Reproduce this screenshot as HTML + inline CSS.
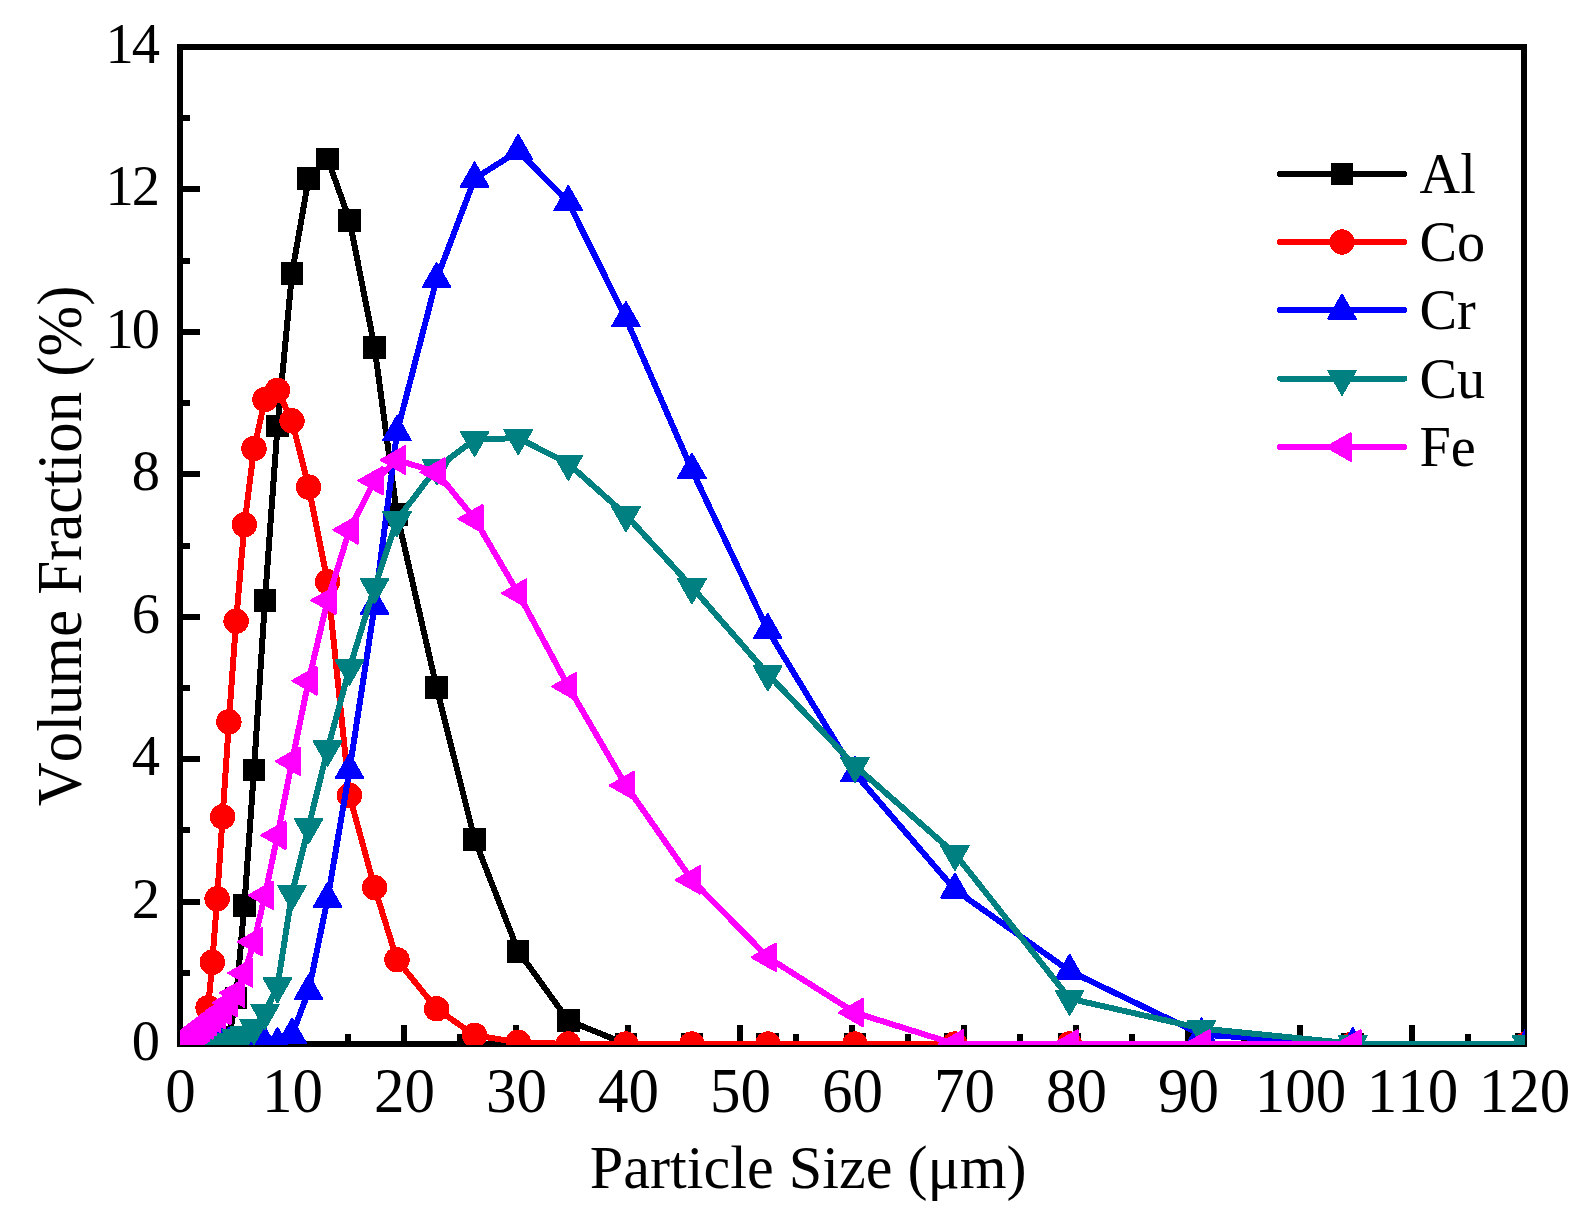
<!DOCTYPE html>
<html><head><meta charset="utf-8"><title>Particle size distribution</title>
<style>
html,body{margin:0;padding:0;background:#fff;}
svg{display:block;}
text{font-family:"Liberation Serif","Times New Roman",serif;fill:#000;font-kerning:none;}
</style></head><body>
<svg width="1592" height="1221" viewBox="0 0 1592 1221">
<rect x="0" y="0" width="1592" height="1221" fill="#fff"/>
<defs><clipPath id="plot"><rect x="180" y="44" width="1345" height="1001"/></clipPath></defs>

<g shape-rendering="crispEdges" stroke="#000" stroke-width="6" fill="none">
<rect x="180.0" y="47.0" width="1344.0" height="997.0"/>
<line x1="236.0" y1="1044.0" x2="236.0" y2="1034.0"/>
<line x1="292.0" y1="1044.0" x2="292.0" y2="1025.0"/>
<line x1="348.0" y1="1044.0" x2="348.0" y2="1034.0"/>
<line x1="404.0" y1="1044.0" x2="404.0" y2="1025.0"/>
<line x1="460.0" y1="1044.0" x2="460.0" y2="1034.0"/>
<line x1="516.0" y1="1044.0" x2="516.0" y2="1025.0"/>
<line x1="572.0" y1="1044.0" x2="572.0" y2="1034.0"/>
<line x1="628.0" y1="1044.0" x2="628.0" y2="1025.0"/>
<line x1="684.0" y1="1044.0" x2="684.0" y2="1034.0"/>
<line x1="740.0" y1="1044.0" x2="740.0" y2="1025.0"/>
<line x1="796.0" y1="1044.0" x2="796.0" y2="1034.0"/>
<line x1="852.0" y1="1044.0" x2="852.0" y2="1025.0"/>
<line x1="908.0" y1="1044.0" x2="908.0" y2="1034.0"/>
<line x1="964.0" y1="1044.0" x2="964.0" y2="1025.0"/>
<line x1="1020.0" y1="1044.0" x2="1020.0" y2="1034.0"/>
<line x1="1076.0" y1="1044.0" x2="1076.0" y2="1025.0"/>
<line x1="1132.0" y1="1044.0" x2="1132.0" y2="1034.0"/>
<line x1="1188.0" y1="1044.0" x2="1188.0" y2="1025.0"/>
<line x1="1244.0" y1="1044.0" x2="1244.0" y2="1034.0"/>
<line x1="1300.0" y1="1044.0" x2="1300.0" y2="1025.0"/>
<line x1="1356.0" y1="1044.0" x2="1356.0" y2="1034.0"/>
<line x1="1412.0" y1="1044.0" x2="1412.0" y2="1025.0"/>
<line x1="1468.0" y1="1044.0" x2="1468.0" y2="1034.0"/>
<line x1="180.0" y1="972.79" x2="190.0" y2="972.79"/>
<line x1="180.0" y1="901.57" x2="200.0" y2="901.57"/>
<line x1="180.0" y1="830.36" x2="190.0" y2="830.36"/>
<line x1="180.0" y1="759.14" x2="200.0" y2="759.14"/>
<line x1="180.0" y1="687.93" x2="190.0" y2="687.93"/>
<line x1="180.0" y1="616.71" x2="200.0" y2="616.71"/>
<line x1="180.0" y1="545.50" x2="190.0" y2="545.50"/>
<line x1="180.0" y1="474.29" x2="200.0" y2="474.29"/>
<line x1="180.0" y1="403.07" x2="190.0" y2="403.07"/>
<line x1="180.0" y1="331.86" x2="200.0" y2="331.86"/>
<line x1="180.0" y1="260.64" x2="190.0" y2="260.64"/>
<line x1="180.0" y1="189.43" x2="200.0" y2="189.43"/>
<line x1="180.0" y1="118.21" x2="190.0" y2="118.21"/>
</g>
<g clip-path="url(#plot)" shape-rendering="crispEdges">
<polyline fill="none" stroke="#000000" stroke-width="6" stroke-linejoin="round" stroke-linecap="round" points="180.2,1044.0 180.3,1044.0 180.3,1044.0 180.3,1044.0 180.4,1044.0 180.4,1044.0 180.5,1044.0 180.6,1044.0 180.7,1044.0 180.8,1044.0 180.9,1044.0 181.0,1044.0 181.2,1044.0 181.3,1044.0 181.5,1044.0 181.8,1044.0 182.0,1044.0 182.3,1044.0 182.7,1044.0 183.1,1044.0 183.5,1044.0 184.1,1044.0 184.7,1044.0 185.4,1044.0 186.2,1044.0 187.1,1044.0 188.1,1044.0 189.3,1044.0 190.7,1044.0 192.3,1044.0 194.1,1044.0 196.2,1044.0 198.6,1044.0 201.3,1044.0 204.5,1044.0 208.1,1044.0 212.3,1044.0 217.1,1044.0 222.6,1044.0 228.9,1037.6 236.1,998.0 244.4,905.3 254.0,769.7 265.0,600.1 277.5,425.9 292.0,273.5 308.6,178.4 327.6,158.8 349.5,220.1 374.6,347.5 397.0,514.2 436.6,687.6 474.6,839.3 518.2,951.1 568.3,1020.5 625.9,1044.0 691.9,1044.0 767.8,1044.0 854.9,1044.0 954.9,1044.0 1069.6,1044.0 1201.5,1044.0 1352.8,1044.0 1526.5,1044.0"/>
<rect x="168.8" y="1032.8" width="22.6" height="22.6" fill="#000000"/>
<rect x="168.9" y="1032.8" width="22.6" height="22.6" fill="#000000"/>
<rect x="168.9" y="1032.8" width="22.6" height="22.6" fill="#000000"/>
<rect x="168.9" y="1032.8" width="22.6" height="22.6" fill="#000000"/>
<rect x="169.0" y="1032.8" width="22.6" height="22.6" fill="#000000"/>
<rect x="169.0" y="1032.8" width="22.6" height="22.6" fill="#000000"/>
<rect x="169.1" y="1032.8" width="22.6" height="22.6" fill="#000000"/>
<rect x="169.2" y="1032.8" width="22.6" height="22.6" fill="#000000"/>
<rect x="169.3" y="1032.8" width="22.6" height="22.6" fill="#000000"/>
<rect x="169.4" y="1032.8" width="22.6" height="22.6" fill="#000000"/>
<rect x="169.5" y="1032.8" width="22.6" height="22.6" fill="#000000"/>
<rect x="169.6" y="1032.8" width="22.6" height="22.6" fill="#000000"/>
<rect x="169.8" y="1032.8" width="22.6" height="22.6" fill="#000000"/>
<rect x="169.9" y="1032.8" width="22.6" height="22.6" fill="#000000"/>
<rect x="170.1" y="1032.8" width="22.6" height="22.6" fill="#000000"/>
<rect x="170.4" y="1032.8" width="22.6" height="22.6" fill="#000000"/>
<rect x="170.6" y="1032.8" width="22.6" height="22.6" fill="#000000"/>
<rect x="170.9" y="1032.8" width="22.6" height="22.6" fill="#000000"/>
<rect x="171.3" y="1032.8" width="22.6" height="22.6" fill="#000000"/>
<rect x="171.7" y="1032.8" width="22.6" height="22.6" fill="#000000"/>
<rect x="172.1" y="1032.8" width="22.6" height="22.6" fill="#000000"/>
<rect x="172.7" y="1032.8" width="22.6" height="22.6" fill="#000000"/>
<rect x="173.3" y="1032.8" width="22.6" height="22.6" fill="#000000"/>
<rect x="174.0" y="1032.8" width="22.6" height="22.6" fill="#000000"/>
<rect x="174.8" y="1032.8" width="22.6" height="22.6" fill="#000000"/>
<rect x="175.7" y="1032.8" width="22.6" height="22.6" fill="#000000"/>
<rect x="176.7" y="1032.8" width="22.6" height="22.6" fill="#000000"/>
<rect x="177.9" y="1032.8" width="22.6" height="22.6" fill="#000000"/>
<rect x="179.3" y="1032.8" width="22.6" height="22.6" fill="#000000"/>
<rect x="180.9" y="1032.8" width="22.6" height="22.6" fill="#000000"/>
<rect x="182.7" y="1032.8" width="22.6" height="22.6" fill="#000000"/>
<rect x="184.8" y="1032.8" width="22.6" height="22.6" fill="#000000"/>
<rect x="187.2" y="1032.8" width="22.6" height="22.6" fill="#000000"/>
<rect x="189.9" y="1032.8" width="22.6" height="22.6" fill="#000000"/>
<rect x="193.1" y="1032.8" width="22.6" height="22.6" fill="#000000"/>
<rect x="196.7" y="1032.8" width="22.6" height="22.6" fill="#000000"/>
<rect x="200.9" y="1032.8" width="22.6" height="22.6" fill="#000000"/>
<rect x="205.7" y="1032.8" width="22.6" height="22.6" fill="#000000"/>
<rect x="211.2" y="1032.8" width="22.6" height="22.6" fill="#000000"/>
<rect x="217.5" y="1026.4" width="22.6" height="22.6" fill="#000000"/>
<rect x="224.7" y="986.8" width="22.6" height="22.6" fill="#000000"/>
<rect x="233.0" y="894.1" width="22.6" height="22.6" fill="#000000"/>
<rect x="242.6" y="758.5" width="22.6" height="22.6" fill="#000000"/>
<rect x="253.6" y="588.9" width="22.6" height="22.6" fill="#000000"/>
<rect x="266.1" y="414.7" width="22.6" height="22.6" fill="#000000"/>
<rect x="280.6" y="262.3" width="22.6" height="22.6" fill="#000000"/>
<rect x="297.2" y="167.2" width="22.6" height="22.6" fill="#000000"/>
<rect x="316.2" y="147.6" width="22.6" height="22.6" fill="#000000"/>
<rect x="338.1" y="208.9" width="22.6" height="22.6" fill="#000000"/>
<rect x="363.2" y="336.3" width="22.6" height="22.6" fill="#000000"/>
<rect x="385.6" y="503.0" width="22.6" height="22.6" fill="#000000"/>
<rect x="425.2" y="676.4" width="22.6" height="22.6" fill="#000000"/>
<rect x="463.2" y="828.1" width="22.6" height="22.6" fill="#000000"/>
<rect x="506.8" y="939.9" width="22.6" height="22.6" fill="#000000"/>
<rect x="556.9" y="1009.3" width="22.6" height="22.6" fill="#000000"/>
<rect x="614.5" y="1032.8" width="22.6" height="22.6" fill="#000000"/>
<rect x="680.5" y="1032.8" width="22.6" height="22.6" fill="#000000"/>
<rect x="756.4" y="1032.8" width="22.6" height="22.6" fill="#000000"/>
<rect x="843.5" y="1032.8" width="22.6" height="22.6" fill="#000000"/>
<rect x="943.5" y="1032.8" width="22.6" height="22.6" fill="#000000"/>
<rect x="1058.2" y="1032.8" width="22.6" height="22.6" fill="#000000"/>
<rect x="1190.1" y="1032.8" width="22.6" height="22.6" fill="#000000"/>
<rect x="1341.4" y="1032.8" width="22.6" height="22.6" fill="#000000"/>
<rect x="1515.1" y="1032.8" width="22.6" height="22.6" fill="#000000"/>
<polyline fill="none" stroke="#ff0000" stroke-width="6" stroke-linejoin="round" stroke-linecap="round" points="180.2,1044.0 180.3,1044.0 180.3,1044.0 180.3,1044.0 180.4,1044.0 180.4,1044.0 180.5,1044.0 180.6,1044.0 180.7,1044.0 180.8,1044.0 180.9,1044.0 181.0,1044.0 181.2,1044.0 181.3,1044.0 181.5,1044.0 181.8,1044.0 182.0,1044.0 182.3,1044.0 182.7,1044.0 183.1,1044.0 183.5,1044.0 184.1,1044.0 184.7,1044.0 185.4,1044.0 186.2,1044.0 187.1,1044.0 188.1,1044.0 189.3,1044.0 190.7,1044.0 192.3,1044.0 194.1,1044.0 196.2,1044.0 198.6,1044.0 201.3,1041.2 204.5,1031.2 208.1,1007.7 212.3,962.3 217.1,898.8 222.6,816.8 228.9,721.8 236.1,621.2 244.4,524.8 254.0,448.6 265.0,399.5 277.5,390.3 292.0,420.9 308.6,487.1 327.6,581.8 349.5,795.5 374.6,887.6 397.0,959.8 436.6,1008.8 474.6,1035.3 518.2,1042.2 568.3,1044.0 625.9,1044.0 691.9,1044.0 767.8,1044.0 854.9,1044.0 954.9,1044.0 1069.6,1044.0 1201.5,1044.0 1352.8,1044.0 1526.5,1044.0"/>
<circle cx="180.2" cy="1044.0" r="12.7" fill="#ff0000"/>
<circle cx="180.3" cy="1044.0" r="12.7" fill="#ff0000"/>
<circle cx="180.3" cy="1044.0" r="12.7" fill="#ff0000"/>
<circle cx="180.3" cy="1044.0" r="12.7" fill="#ff0000"/>
<circle cx="180.4" cy="1044.0" r="12.7" fill="#ff0000"/>
<circle cx="180.4" cy="1044.0" r="12.7" fill="#ff0000"/>
<circle cx="180.5" cy="1044.0" r="12.7" fill="#ff0000"/>
<circle cx="180.6" cy="1044.0" r="12.7" fill="#ff0000"/>
<circle cx="180.7" cy="1044.0" r="12.7" fill="#ff0000"/>
<circle cx="180.8" cy="1044.0" r="12.7" fill="#ff0000"/>
<circle cx="180.9" cy="1044.0" r="12.7" fill="#ff0000"/>
<circle cx="181.0" cy="1044.0" r="12.7" fill="#ff0000"/>
<circle cx="181.2" cy="1044.0" r="12.7" fill="#ff0000"/>
<circle cx="181.3" cy="1044.0" r="12.7" fill="#ff0000"/>
<circle cx="181.5" cy="1044.0" r="12.7" fill="#ff0000"/>
<circle cx="181.8" cy="1044.0" r="12.7" fill="#ff0000"/>
<circle cx="182.0" cy="1044.0" r="12.7" fill="#ff0000"/>
<circle cx="182.3" cy="1044.0" r="12.7" fill="#ff0000"/>
<circle cx="182.7" cy="1044.0" r="12.7" fill="#ff0000"/>
<circle cx="183.1" cy="1044.0" r="12.7" fill="#ff0000"/>
<circle cx="183.5" cy="1044.0" r="12.7" fill="#ff0000"/>
<circle cx="184.1" cy="1044.0" r="12.7" fill="#ff0000"/>
<circle cx="184.7" cy="1044.0" r="12.7" fill="#ff0000"/>
<circle cx="185.4" cy="1044.0" r="12.7" fill="#ff0000"/>
<circle cx="186.2" cy="1044.0" r="12.7" fill="#ff0000"/>
<circle cx="187.1" cy="1044.0" r="12.7" fill="#ff0000"/>
<circle cx="188.1" cy="1044.0" r="12.7" fill="#ff0000"/>
<circle cx="189.3" cy="1044.0" r="12.7" fill="#ff0000"/>
<circle cx="190.7" cy="1044.0" r="12.7" fill="#ff0000"/>
<circle cx="192.3" cy="1044.0" r="12.7" fill="#ff0000"/>
<circle cx="194.1" cy="1044.0" r="12.7" fill="#ff0000"/>
<circle cx="196.2" cy="1044.0" r="12.7" fill="#ff0000"/>
<circle cx="198.6" cy="1044.0" r="12.7" fill="#ff0000"/>
<circle cx="201.3" cy="1041.2" r="12.7" fill="#ff0000"/>
<circle cx="204.5" cy="1031.2" r="12.7" fill="#ff0000"/>
<circle cx="208.1" cy="1007.7" r="12.7" fill="#ff0000"/>
<circle cx="212.3" cy="962.3" r="12.7" fill="#ff0000"/>
<circle cx="217.1" cy="898.8" r="12.7" fill="#ff0000"/>
<circle cx="222.6" cy="816.8" r="12.7" fill="#ff0000"/>
<circle cx="228.9" cy="721.8" r="12.7" fill="#ff0000"/>
<circle cx="236.1" cy="621.2" r="12.7" fill="#ff0000"/>
<circle cx="244.4" cy="524.8" r="12.7" fill="#ff0000"/>
<circle cx="254.0" cy="448.6" r="12.7" fill="#ff0000"/>
<circle cx="265.0" cy="399.5" r="12.7" fill="#ff0000"/>
<circle cx="277.5" cy="390.3" r="12.7" fill="#ff0000"/>
<circle cx="292.0" cy="420.9" r="12.7" fill="#ff0000"/>
<circle cx="308.6" cy="487.1" r="12.7" fill="#ff0000"/>
<circle cx="327.6" cy="581.8" r="12.7" fill="#ff0000"/>
<circle cx="349.5" cy="795.5" r="12.7" fill="#ff0000"/>
<circle cx="374.6" cy="887.6" r="12.7" fill="#ff0000"/>
<circle cx="397.0" cy="959.8" r="12.7" fill="#ff0000"/>
<circle cx="436.6" cy="1008.8" r="12.7" fill="#ff0000"/>
<circle cx="474.6" cy="1035.3" r="12.7" fill="#ff0000"/>
<circle cx="518.2" cy="1042.2" r="12.7" fill="#ff0000"/>
<circle cx="568.3" cy="1044.0" r="12.7" fill="#ff0000"/>
<circle cx="625.9" cy="1044.0" r="12.7" fill="#ff0000"/>
<circle cx="691.9" cy="1044.0" r="12.7" fill="#ff0000"/>
<circle cx="767.8" cy="1044.0" r="12.7" fill="#ff0000"/>
<circle cx="854.9" cy="1044.0" r="12.7" fill="#ff0000"/>
<circle cx="954.9" cy="1044.0" r="12.7" fill="#ff0000"/>
<circle cx="1069.6" cy="1044.0" r="12.7" fill="#ff0000"/>
<circle cx="1201.5" cy="1044.0" r="12.7" fill="#ff0000"/>
<circle cx="1352.8" cy="1044.0" r="12.7" fill="#ff0000"/>
<circle cx="1526.5" cy="1044.0" r="12.7" fill="#ff0000"/>
<polyline fill="none" stroke="#0000ff" stroke-width="6" stroke-linejoin="round" stroke-linecap="round" points="192.3,1044.0 194.1,1044.0 196.2,1044.0 198.6,1044.0 201.3,1044.0 204.5,1044.0 208.1,1044.0 212.3,1044.0 217.1,1044.0 222.6,1044.0 228.9,1044.0 236.1,1044.0 244.4,1044.0 254.0,1044.0 265.0,1044.0 277.5,1044.0 292.0,1034.9 308.6,991.3 327.6,898.9 349.5,770.1 374.6,606.0 397.0,432.3 436.6,279.2 474.6,178.7 518.2,151.0 568.3,202.2 625.9,318.3 691.9,470.0 767.8,630.2 854.9,773.4 954.9,889.7 1069.6,971.0 1201.5,1034.7 1352.8,1044.0 1526.5,1044.0"/>
<polygon points="192.3,1027.8 178.5,1052.0 206.1,1052.0" fill="#0000ff" stroke="#0000ff" stroke-width="2" stroke-linejoin="round"/>
<polygon points="194.1,1027.8 180.3,1052.0 207.9,1052.0" fill="#0000ff" stroke="#0000ff" stroke-width="2" stroke-linejoin="round"/>
<polygon points="196.2,1027.8 182.4,1052.0 210.0,1052.0" fill="#0000ff" stroke="#0000ff" stroke-width="2" stroke-linejoin="round"/>
<polygon points="198.6,1027.8 184.8,1052.0 212.4,1052.0" fill="#0000ff" stroke="#0000ff" stroke-width="2" stroke-linejoin="round"/>
<polygon points="201.3,1027.8 187.5,1052.0 215.1,1052.0" fill="#0000ff" stroke="#0000ff" stroke-width="2" stroke-linejoin="round"/>
<polygon points="204.5,1027.8 190.7,1052.0 218.3,1052.0" fill="#0000ff" stroke="#0000ff" stroke-width="2" stroke-linejoin="round"/>
<polygon points="208.1,1027.8 194.3,1052.0 221.9,1052.0" fill="#0000ff" stroke="#0000ff" stroke-width="2" stroke-linejoin="round"/>
<polygon points="212.3,1027.8 198.5,1052.0 226.1,1052.0" fill="#0000ff" stroke="#0000ff" stroke-width="2" stroke-linejoin="round"/>
<polygon points="217.1,1027.8 203.3,1052.0 230.9,1052.0" fill="#0000ff" stroke="#0000ff" stroke-width="2" stroke-linejoin="round"/>
<polygon points="222.6,1027.8 208.8,1052.0 236.4,1052.0" fill="#0000ff" stroke="#0000ff" stroke-width="2" stroke-linejoin="round"/>
<polygon points="228.9,1027.8 215.1,1052.0 242.7,1052.0" fill="#0000ff" stroke="#0000ff" stroke-width="2" stroke-linejoin="round"/>
<polygon points="236.1,1027.8 222.3,1052.0 249.9,1052.0" fill="#0000ff" stroke="#0000ff" stroke-width="2" stroke-linejoin="round"/>
<polygon points="244.4,1027.8 230.6,1052.0 258.2,1052.0" fill="#0000ff" stroke="#0000ff" stroke-width="2" stroke-linejoin="round"/>
<polygon points="254.0,1027.8 240.2,1052.0 267.8,1052.0" fill="#0000ff" stroke="#0000ff" stroke-width="2" stroke-linejoin="round"/>
<polygon points="265.0,1027.8 251.2,1052.0 278.8,1052.0" fill="#0000ff" stroke="#0000ff" stroke-width="2" stroke-linejoin="round"/>
<polygon points="277.5,1027.8 263.7,1052.0 291.3,1052.0" fill="#0000ff" stroke="#0000ff" stroke-width="2" stroke-linejoin="round"/>
<polygon points="292.0,1018.7 278.2,1042.9 305.8,1042.9" fill="#0000ff" stroke="#0000ff" stroke-width="2" stroke-linejoin="round"/>
<polygon points="308.6,975.1 294.8,999.3 322.4,999.3" fill="#0000ff" stroke="#0000ff" stroke-width="2" stroke-linejoin="round"/>
<polygon points="327.6,882.7 313.8,906.9 341.4,906.9" fill="#0000ff" stroke="#0000ff" stroke-width="2" stroke-linejoin="round"/>
<polygon points="349.5,753.9 335.7,778.1 363.3,778.1" fill="#0000ff" stroke="#0000ff" stroke-width="2" stroke-linejoin="round"/>
<polygon points="374.6,589.8 360.8,614.0 388.4,614.0" fill="#0000ff" stroke="#0000ff" stroke-width="2" stroke-linejoin="round"/>
<polygon points="397.0,416.1 383.2,440.3 410.8,440.3" fill="#0000ff" stroke="#0000ff" stroke-width="2" stroke-linejoin="round"/>
<polygon points="436.6,263.0 422.8,287.2 450.4,287.2" fill="#0000ff" stroke="#0000ff" stroke-width="2" stroke-linejoin="round"/>
<polygon points="474.6,162.5 460.8,186.7 488.4,186.7" fill="#0000ff" stroke="#0000ff" stroke-width="2" stroke-linejoin="round"/>
<polygon points="518.2,134.8 504.4,159.0 532.0,159.0" fill="#0000ff" stroke="#0000ff" stroke-width="2" stroke-linejoin="round"/>
<polygon points="568.3,186.0 554.5,210.2 582.1,210.2" fill="#0000ff" stroke="#0000ff" stroke-width="2" stroke-linejoin="round"/>
<polygon points="625.9,302.1 612.1,326.3 639.7,326.3" fill="#0000ff" stroke="#0000ff" stroke-width="2" stroke-linejoin="round"/>
<polygon points="691.9,453.8 678.1,478.0 705.7,478.0" fill="#0000ff" stroke="#0000ff" stroke-width="2" stroke-linejoin="round"/>
<polygon points="767.8,614.0 754.0,638.2 781.6,638.2" fill="#0000ff" stroke="#0000ff" stroke-width="2" stroke-linejoin="round"/>
<polygon points="854.9,757.2 841.1,781.4 868.7,781.4" fill="#0000ff" stroke="#0000ff" stroke-width="2" stroke-linejoin="round"/>
<polygon points="954.9,873.5 941.1,897.7 968.7,897.7" fill="#0000ff" stroke="#0000ff" stroke-width="2" stroke-linejoin="round"/>
<polygon points="1069.6,954.8 1055.8,979.0 1083.4,979.0" fill="#0000ff" stroke="#0000ff" stroke-width="2" stroke-linejoin="round"/>
<polygon points="1201.5,1018.5 1187.7,1042.7 1215.3,1042.7" fill="#0000ff" stroke="#0000ff" stroke-width="2" stroke-linejoin="round"/>
<polygon points="1352.8,1027.8 1339.0,1052.0 1366.6,1052.0" fill="#0000ff" stroke="#0000ff" stroke-width="2" stroke-linejoin="round"/>
<polygon points="1526.5,1027.8 1512.7,1052.0 1540.3,1052.0" fill="#0000ff" stroke="#0000ff" stroke-width="2" stroke-linejoin="round"/>
<polyline fill="none" stroke="#008080" stroke-width="6" stroke-linejoin="round" stroke-linecap="round" points="180.2,1044.0 180.3,1044.0 180.3,1044.0 180.3,1044.0 180.4,1044.0 180.4,1044.0 180.5,1044.0 180.6,1044.0 180.7,1044.0 180.8,1044.0 180.9,1044.0 181.0,1044.0 181.2,1044.0 181.3,1044.0 181.5,1044.0 181.8,1044.0 182.0,1044.0 182.3,1044.0 182.7,1044.0 183.1,1044.0 183.5,1044.0 184.1,1044.0 184.7,1044.0 185.4,1044.0 186.2,1044.0 187.1,1044.0 188.1,1044.0 189.3,1044.0 190.7,1044.0 192.3,1044.0 194.1,1044.0 196.2,1044.0 198.6,1044.0 201.3,1044.0 204.5,1044.0 208.1,1044.0 212.3,1044.0 217.1,1044.0 222.6,1044.0 228.9,1041.9 236.1,1037.6 244.4,1034.7 254.0,1027.7 265.0,1012.6 277.5,986.1 292.0,893.7 308.6,826.8 327.6,749.3 349.5,668.3 374.6,586.8 397.0,519.9 436.6,467.9 474.6,439.7 518.2,438.0 568.3,463.6 625.9,514.9 691.9,587.0 767.8,674.1 854.9,765.7 954.9,853.7 1069.6,998.6 1201.5,1028.5 1352.8,1043.6 1526.5,1044.0"/>
<polygon points="180.2,1060.2 166.4,1036.0 194.0,1036.0" fill="#008080" stroke="#008080" stroke-width="2" stroke-linejoin="round"/>
<polygon points="180.3,1060.2 166.5,1036.0 194.1,1036.0" fill="#008080" stroke="#008080" stroke-width="2" stroke-linejoin="round"/>
<polygon points="180.3,1060.2 166.5,1036.0 194.1,1036.0" fill="#008080" stroke="#008080" stroke-width="2" stroke-linejoin="round"/>
<polygon points="180.3,1060.2 166.5,1036.0 194.1,1036.0" fill="#008080" stroke="#008080" stroke-width="2" stroke-linejoin="round"/>
<polygon points="180.4,1060.2 166.6,1036.0 194.2,1036.0" fill="#008080" stroke="#008080" stroke-width="2" stroke-linejoin="round"/>
<polygon points="180.4,1060.2 166.6,1036.0 194.2,1036.0" fill="#008080" stroke="#008080" stroke-width="2" stroke-linejoin="round"/>
<polygon points="180.5,1060.2 166.7,1036.0 194.3,1036.0" fill="#008080" stroke="#008080" stroke-width="2" stroke-linejoin="round"/>
<polygon points="180.6,1060.2 166.8,1036.0 194.4,1036.0" fill="#008080" stroke="#008080" stroke-width="2" stroke-linejoin="round"/>
<polygon points="180.7,1060.2 166.9,1036.0 194.5,1036.0" fill="#008080" stroke="#008080" stroke-width="2" stroke-linejoin="round"/>
<polygon points="180.8,1060.2 167.0,1036.0 194.6,1036.0" fill="#008080" stroke="#008080" stroke-width="2" stroke-linejoin="round"/>
<polygon points="180.9,1060.2 167.1,1036.0 194.7,1036.0" fill="#008080" stroke="#008080" stroke-width="2" stroke-linejoin="round"/>
<polygon points="181.0,1060.2 167.2,1036.0 194.8,1036.0" fill="#008080" stroke="#008080" stroke-width="2" stroke-linejoin="round"/>
<polygon points="181.2,1060.2 167.4,1036.0 195.0,1036.0" fill="#008080" stroke="#008080" stroke-width="2" stroke-linejoin="round"/>
<polygon points="181.3,1060.2 167.5,1036.0 195.1,1036.0" fill="#008080" stroke="#008080" stroke-width="2" stroke-linejoin="round"/>
<polygon points="181.5,1060.2 167.7,1036.0 195.3,1036.0" fill="#008080" stroke="#008080" stroke-width="2" stroke-linejoin="round"/>
<polygon points="181.8,1060.2 168.0,1036.0 195.6,1036.0" fill="#008080" stroke="#008080" stroke-width="2" stroke-linejoin="round"/>
<polygon points="182.0,1060.2 168.2,1036.0 195.8,1036.0" fill="#008080" stroke="#008080" stroke-width="2" stroke-linejoin="round"/>
<polygon points="182.3,1060.2 168.5,1036.0 196.1,1036.0" fill="#008080" stroke="#008080" stroke-width="2" stroke-linejoin="round"/>
<polygon points="182.7,1060.2 168.9,1036.0 196.5,1036.0" fill="#008080" stroke="#008080" stroke-width="2" stroke-linejoin="round"/>
<polygon points="183.1,1060.2 169.3,1036.0 196.9,1036.0" fill="#008080" stroke="#008080" stroke-width="2" stroke-linejoin="round"/>
<polygon points="183.5,1060.2 169.7,1036.0 197.3,1036.0" fill="#008080" stroke="#008080" stroke-width="2" stroke-linejoin="round"/>
<polygon points="184.1,1060.2 170.3,1036.0 197.9,1036.0" fill="#008080" stroke="#008080" stroke-width="2" stroke-linejoin="round"/>
<polygon points="184.7,1060.2 170.9,1036.0 198.5,1036.0" fill="#008080" stroke="#008080" stroke-width="2" stroke-linejoin="round"/>
<polygon points="185.4,1060.2 171.6,1036.0 199.2,1036.0" fill="#008080" stroke="#008080" stroke-width="2" stroke-linejoin="round"/>
<polygon points="186.2,1060.2 172.4,1036.0 200.0,1036.0" fill="#008080" stroke="#008080" stroke-width="2" stroke-linejoin="round"/>
<polygon points="187.1,1060.2 173.3,1036.0 200.9,1036.0" fill="#008080" stroke="#008080" stroke-width="2" stroke-linejoin="round"/>
<polygon points="188.1,1060.2 174.3,1036.0 201.9,1036.0" fill="#008080" stroke="#008080" stroke-width="2" stroke-linejoin="round"/>
<polygon points="189.3,1060.2 175.5,1036.0 203.1,1036.0" fill="#008080" stroke="#008080" stroke-width="2" stroke-linejoin="round"/>
<polygon points="190.7,1060.2 176.9,1036.0 204.5,1036.0" fill="#008080" stroke="#008080" stroke-width="2" stroke-linejoin="round"/>
<polygon points="192.3,1060.2 178.5,1036.0 206.1,1036.0" fill="#008080" stroke="#008080" stroke-width="2" stroke-linejoin="round"/>
<polygon points="194.1,1060.2 180.3,1036.0 207.9,1036.0" fill="#008080" stroke="#008080" stroke-width="2" stroke-linejoin="round"/>
<polygon points="196.2,1060.2 182.4,1036.0 210.0,1036.0" fill="#008080" stroke="#008080" stroke-width="2" stroke-linejoin="round"/>
<polygon points="198.6,1060.2 184.8,1036.0 212.4,1036.0" fill="#008080" stroke="#008080" stroke-width="2" stroke-linejoin="round"/>
<polygon points="201.3,1060.2 187.5,1036.0 215.1,1036.0" fill="#008080" stroke="#008080" stroke-width="2" stroke-linejoin="round"/>
<polygon points="204.5,1060.2 190.7,1036.0 218.3,1036.0" fill="#008080" stroke="#008080" stroke-width="2" stroke-linejoin="round"/>
<polygon points="208.1,1060.2 194.3,1036.0 221.9,1036.0" fill="#008080" stroke="#008080" stroke-width="2" stroke-linejoin="round"/>
<polygon points="212.3,1060.2 198.5,1036.0 226.1,1036.0" fill="#008080" stroke="#008080" stroke-width="2" stroke-linejoin="round"/>
<polygon points="217.1,1060.2 203.3,1036.0 230.9,1036.0" fill="#008080" stroke="#008080" stroke-width="2" stroke-linejoin="round"/>
<polygon points="222.6,1060.2 208.8,1036.0 236.4,1036.0" fill="#008080" stroke="#008080" stroke-width="2" stroke-linejoin="round"/>
<polygon points="228.9,1058.1 215.1,1033.9 242.7,1033.9" fill="#008080" stroke="#008080" stroke-width="2" stroke-linejoin="round"/>
<polygon points="236.1,1053.8 222.3,1029.6 249.9,1029.6" fill="#008080" stroke="#008080" stroke-width="2" stroke-linejoin="round"/>
<polygon points="244.4,1050.9 230.6,1026.7 258.2,1026.7" fill="#008080" stroke="#008080" stroke-width="2" stroke-linejoin="round"/>
<polygon points="254.0,1043.9 240.2,1019.7 267.8,1019.7" fill="#008080" stroke="#008080" stroke-width="2" stroke-linejoin="round"/>
<polygon points="265.0,1028.8 251.2,1004.6 278.8,1004.6" fill="#008080" stroke="#008080" stroke-width="2" stroke-linejoin="round"/>
<polygon points="277.5,1002.3 263.7,978.1 291.3,978.1" fill="#008080" stroke="#008080" stroke-width="2" stroke-linejoin="round"/>
<polygon points="292.0,909.9 278.2,885.7 305.8,885.7" fill="#008080" stroke="#008080" stroke-width="2" stroke-linejoin="round"/>
<polygon points="308.6,843.0 294.8,818.8 322.4,818.8" fill="#008080" stroke="#008080" stroke-width="2" stroke-linejoin="round"/>
<polygon points="327.6,765.5 313.8,741.3 341.4,741.3" fill="#008080" stroke="#008080" stroke-width="2" stroke-linejoin="round"/>
<polygon points="349.5,684.5 335.7,660.3 363.3,660.3" fill="#008080" stroke="#008080" stroke-width="2" stroke-linejoin="round"/>
<polygon points="374.6,603.0 360.8,578.8 388.4,578.8" fill="#008080" stroke="#008080" stroke-width="2" stroke-linejoin="round"/>
<polygon points="397.0,536.1 383.2,511.9 410.8,511.9" fill="#008080" stroke="#008080" stroke-width="2" stroke-linejoin="round"/>
<polygon points="436.6,484.1 422.8,459.9 450.4,459.9" fill="#008080" stroke="#008080" stroke-width="2" stroke-linejoin="round"/>
<polygon points="474.6,455.9 460.8,431.7 488.4,431.7" fill="#008080" stroke="#008080" stroke-width="2" stroke-linejoin="round"/>
<polygon points="518.2,454.2 504.4,430.0 532.0,430.0" fill="#008080" stroke="#008080" stroke-width="2" stroke-linejoin="round"/>
<polygon points="568.3,479.8 554.5,455.6 582.1,455.6" fill="#008080" stroke="#008080" stroke-width="2" stroke-linejoin="round"/>
<polygon points="625.9,531.1 612.1,506.9 639.7,506.9" fill="#008080" stroke="#008080" stroke-width="2" stroke-linejoin="round"/>
<polygon points="691.9,603.2 678.1,579.0 705.7,579.0" fill="#008080" stroke="#008080" stroke-width="2" stroke-linejoin="round"/>
<polygon points="767.8,690.3 754.0,666.1 781.6,666.1" fill="#008080" stroke="#008080" stroke-width="2" stroke-linejoin="round"/>
<polygon points="854.9,781.9 841.1,757.7 868.7,757.7" fill="#008080" stroke="#008080" stroke-width="2" stroke-linejoin="round"/>
<polygon points="954.9,869.9 941.1,845.7 968.7,845.7" fill="#008080" stroke="#008080" stroke-width="2" stroke-linejoin="round"/>
<polygon points="1069.6,1014.8 1055.8,990.6 1083.4,990.6" fill="#008080" stroke="#008080" stroke-width="2" stroke-linejoin="round"/>
<polygon points="1201.5,1044.7 1187.7,1020.5 1215.3,1020.5" fill="#008080" stroke="#008080" stroke-width="2" stroke-linejoin="round"/>
<polygon points="1352.8,1059.8 1339.0,1035.6 1366.6,1035.6" fill="#008080" stroke="#008080" stroke-width="2" stroke-linejoin="round"/>
<polygon points="1526.5,1060.2 1512.7,1036.0 1540.3,1036.0" fill="#008080" stroke="#008080" stroke-width="2" stroke-linejoin="round"/>
<polyline fill="none" stroke="#ff00ff" stroke-width="6" stroke-linejoin="round" stroke-linecap="round" points="180.2,1043.8 180.3,1043.8 180.3,1043.8 180.3,1043.7 180.4,1043.7 180.4,1043.6 180.5,1043.6 180.6,1043.5 180.7,1043.5 180.8,1043.4 180.9,1043.3 181.0,1043.2 181.2,1043.1 181.3,1042.9 181.5,1042.8 181.8,1042.6 182.0,1042.4 182.3,1042.2 182.7,1041.9 183.1,1041.6 183.5,1041.2 184.1,1040.8 184.7,1040.3 185.4,1039.8 186.2,1039.1 187.1,1038.4 188.1,1037.6 189.3,1036.7 190.7,1035.6 192.3,1034.3 194.1,1032.9 196.2,1031.2 198.6,1029.3 201.3,1027.2 204.5,1024.7 208.1,1021.8 212.3,1018.5 217.1,1014.8 222.6,1010.4 228.9,1002.7 236.1,993.0 244.4,973.0 254.0,941.7 265.0,895.3 277.5,835.3 292.0,761.3 308.6,680.8 327.6,600.3 349.5,529.8 374.6,480.7 397.0,460.0 436.6,472.1 474.6,518.8 518.2,593.2 568.3,686.5 625.9,785.5 691.9,879.9 767.8,957.3 854.9,1012.6 954.9,1044.0 1069.6,1044.0 1201.5,1044.0 1352.8,1044.0"/>
<polygon points="164.0,1043.8 188.2,1030.0 188.2,1057.6" fill="#ff00ff" stroke="#ff00ff" stroke-width="2" stroke-linejoin="round"/>
<polygon points="164.1,1043.8 188.3,1030.0 188.3,1057.6" fill="#ff00ff" stroke="#ff00ff" stroke-width="2" stroke-linejoin="round"/>
<polygon points="164.1,1043.8 188.3,1030.0 188.3,1057.6" fill="#ff00ff" stroke="#ff00ff" stroke-width="2" stroke-linejoin="round"/>
<polygon points="164.1,1043.7 188.3,1029.9 188.3,1057.5" fill="#ff00ff" stroke="#ff00ff" stroke-width="2" stroke-linejoin="round"/>
<polygon points="164.2,1043.7 188.4,1029.9 188.4,1057.5" fill="#ff00ff" stroke="#ff00ff" stroke-width="2" stroke-linejoin="round"/>
<polygon points="164.2,1043.6 188.4,1029.8 188.4,1057.4" fill="#ff00ff" stroke="#ff00ff" stroke-width="2" stroke-linejoin="round"/>
<polygon points="164.3,1043.6 188.5,1029.8 188.5,1057.4" fill="#ff00ff" stroke="#ff00ff" stroke-width="2" stroke-linejoin="round"/>
<polygon points="164.4,1043.5 188.6,1029.7 188.6,1057.3" fill="#ff00ff" stroke="#ff00ff" stroke-width="2" stroke-linejoin="round"/>
<polygon points="164.5,1043.5 188.7,1029.7 188.7,1057.3" fill="#ff00ff" stroke="#ff00ff" stroke-width="2" stroke-linejoin="round"/>
<polygon points="164.6,1043.4 188.8,1029.6 188.8,1057.2" fill="#ff00ff" stroke="#ff00ff" stroke-width="2" stroke-linejoin="round"/>
<polygon points="164.7,1043.3 188.9,1029.5 188.9,1057.1" fill="#ff00ff" stroke="#ff00ff" stroke-width="2" stroke-linejoin="round"/>
<polygon points="164.8,1043.2 189.0,1029.4 189.0,1057.0" fill="#ff00ff" stroke="#ff00ff" stroke-width="2" stroke-linejoin="round"/>
<polygon points="165.0,1043.1 189.2,1029.3 189.2,1056.9" fill="#ff00ff" stroke="#ff00ff" stroke-width="2" stroke-linejoin="round"/>
<polygon points="165.1,1042.9 189.3,1029.1 189.3,1056.7" fill="#ff00ff" stroke="#ff00ff" stroke-width="2" stroke-linejoin="round"/>
<polygon points="165.3,1042.8 189.5,1029.0 189.5,1056.6" fill="#ff00ff" stroke="#ff00ff" stroke-width="2" stroke-linejoin="round"/>
<polygon points="165.6,1042.6 189.8,1028.8 189.8,1056.4" fill="#ff00ff" stroke="#ff00ff" stroke-width="2" stroke-linejoin="round"/>
<polygon points="165.8,1042.4 190.0,1028.6 190.0,1056.2" fill="#ff00ff" stroke="#ff00ff" stroke-width="2" stroke-linejoin="round"/>
<polygon points="166.1,1042.2 190.3,1028.4 190.3,1056.0" fill="#ff00ff" stroke="#ff00ff" stroke-width="2" stroke-linejoin="round"/>
<polygon points="166.5,1041.9 190.7,1028.1 190.7,1055.7" fill="#ff00ff" stroke="#ff00ff" stroke-width="2" stroke-linejoin="round"/>
<polygon points="166.9,1041.6 191.1,1027.8 191.1,1055.4" fill="#ff00ff" stroke="#ff00ff" stroke-width="2" stroke-linejoin="round"/>
<polygon points="167.3,1041.2 191.5,1027.4 191.5,1055.0" fill="#ff00ff" stroke="#ff00ff" stroke-width="2" stroke-linejoin="round"/>
<polygon points="167.9,1040.8 192.1,1027.0 192.1,1054.6" fill="#ff00ff" stroke="#ff00ff" stroke-width="2" stroke-linejoin="round"/>
<polygon points="168.5,1040.3 192.7,1026.5 192.7,1054.1" fill="#ff00ff" stroke="#ff00ff" stroke-width="2" stroke-linejoin="round"/>
<polygon points="169.2,1039.8 193.4,1026.0 193.4,1053.6" fill="#ff00ff" stroke="#ff00ff" stroke-width="2" stroke-linejoin="round"/>
<polygon points="170.0,1039.1 194.2,1025.3 194.2,1052.9" fill="#ff00ff" stroke="#ff00ff" stroke-width="2" stroke-linejoin="round"/>
<polygon points="170.9,1038.4 195.1,1024.6 195.1,1052.2" fill="#ff00ff" stroke="#ff00ff" stroke-width="2" stroke-linejoin="round"/>
<polygon points="171.9,1037.6 196.1,1023.8 196.1,1051.4" fill="#ff00ff" stroke="#ff00ff" stroke-width="2" stroke-linejoin="round"/>
<polygon points="173.1,1036.7 197.3,1022.9 197.3,1050.5" fill="#ff00ff" stroke="#ff00ff" stroke-width="2" stroke-linejoin="round"/>
<polygon points="174.5,1035.6 198.7,1021.8 198.7,1049.4" fill="#ff00ff" stroke="#ff00ff" stroke-width="2" stroke-linejoin="round"/>
<polygon points="176.1,1034.3 200.3,1020.5 200.3,1048.1" fill="#ff00ff" stroke="#ff00ff" stroke-width="2" stroke-linejoin="round"/>
<polygon points="177.9,1032.9 202.1,1019.1 202.1,1046.7" fill="#ff00ff" stroke="#ff00ff" stroke-width="2" stroke-linejoin="round"/>
<polygon points="180.0,1031.2 204.2,1017.4 204.2,1045.0" fill="#ff00ff" stroke="#ff00ff" stroke-width="2" stroke-linejoin="round"/>
<polygon points="182.4,1029.3 206.6,1015.5 206.6,1043.1" fill="#ff00ff" stroke="#ff00ff" stroke-width="2" stroke-linejoin="round"/>
<polygon points="185.1,1027.2 209.3,1013.4 209.3,1041.0" fill="#ff00ff" stroke="#ff00ff" stroke-width="2" stroke-linejoin="round"/>
<polygon points="188.3,1024.7 212.5,1010.9 212.5,1038.5" fill="#ff00ff" stroke="#ff00ff" stroke-width="2" stroke-linejoin="round"/>
<polygon points="191.9,1021.8 216.1,1008.0 216.1,1035.6" fill="#ff00ff" stroke="#ff00ff" stroke-width="2" stroke-linejoin="round"/>
<polygon points="196.1,1018.5 220.3,1004.7 220.3,1032.3" fill="#ff00ff" stroke="#ff00ff" stroke-width="2" stroke-linejoin="round"/>
<polygon points="200.9,1014.8 225.1,1001.0 225.1,1028.6" fill="#ff00ff" stroke="#ff00ff" stroke-width="2" stroke-linejoin="round"/>
<polygon points="206.4,1010.4 230.6,996.6 230.6,1024.2" fill="#ff00ff" stroke="#ff00ff" stroke-width="2" stroke-linejoin="round"/>
<polygon points="212.7,1002.7 236.9,988.9 236.9,1016.5" fill="#ff00ff" stroke="#ff00ff" stroke-width="2" stroke-linejoin="round"/>
<polygon points="219.9,993.0 244.1,979.2 244.1,1006.8" fill="#ff00ff" stroke="#ff00ff" stroke-width="2" stroke-linejoin="round"/>
<polygon points="228.2,973.0 252.4,959.2 252.4,986.8" fill="#ff00ff" stroke="#ff00ff" stroke-width="2" stroke-linejoin="round"/>
<polygon points="237.8,941.7 262.0,927.9 262.0,955.5" fill="#ff00ff" stroke="#ff00ff" stroke-width="2" stroke-linejoin="round"/>
<polygon points="248.8,895.3 273.0,881.5 273.0,909.1" fill="#ff00ff" stroke="#ff00ff" stroke-width="2" stroke-linejoin="round"/>
<polygon points="261.3,835.3 285.5,821.5 285.5,849.1" fill="#ff00ff" stroke="#ff00ff" stroke-width="2" stroke-linejoin="round"/>
<polygon points="275.8,761.3 300.0,747.5 300.0,775.1" fill="#ff00ff" stroke="#ff00ff" stroke-width="2" stroke-linejoin="round"/>
<polygon points="292.4,680.8 316.6,667.0 316.6,694.6" fill="#ff00ff" stroke="#ff00ff" stroke-width="2" stroke-linejoin="round"/>
<polygon points="311.4,600.3 335.6,586.5 335.6,614.1" fill="#ff00ff" stroke="#ff00ff" stroke-width="2" stroke-linejoin="round"/>
<polygon points="333.3,529.8 357.5,516.0 357.5,543.6" fill="#ff00ff" stroke="#ff00ff" stroke-width="2" stroke-linejoin="round"/>
<polygon points="358.4,480.7 382.6,466.9 382.6,494.5" fill="#ff00ff" stroke="#ff00ff" stroke-width="2" stroke-linejoin="round"/>
<polygon points="380.8,460.0 405.0,446.2 405.0,473.8" fill="#ff00ff" stroke="#ff00ff" stroke-width="2" stroke-linejoin="round"/>
<polygon points="420.4,472.1 444.6,458.3 444.6,485.9" fill="#ff00ff" stroke="#ff00ff" stroke-width="2" stroke-linejoin="round"/>
<polygon points="458.4,518.8 482.6,505.0 482.6,532.6" fill="#ff00ff" stroke="#ff00ff" stroke-width="2" stroke-linejoin="round"/>
<polygon points="502.0,593.2 526.2,579.4 526.2,607.0" fill="#ff00ff" stroke="#ff00ff" stroke-width="2" stroke-linejoin="round"/>
<polygon points="552.1,686.5 576.3,672.7 576.3,700.3" fill="#ff00ff" stroke="#ff00ff" stroke-width="2" stroke-linejoin="round"/>
<polygon points="609.7,785.5 633.9,771.7 633.9,799.3" fill="#ff00ff" stroke="#ff00ff" stroke-width="2" stroke-linejoin="round"/>
<polygon points="675.7,879.9 699.9,866.1 699.9,893.7" fill="#ff00ff" stroke="#ff00ff" stroke-width="2" stroke-linejoin="round"/>
<polygon points="751.6,957.3 775.8,943.5 775.8,971.1" fill="#ff00ff" stroke="#ff00ff" stroke-width="2" stroke-linejoin="round"/>
<polygon points="838.7,1012.6 862.9,998.8 862.9,1026.4" fill="#ff00ff" stroke="#ff00ff" stroke-width="2" stroke-linejoin="round"/>
<polygon points="938.7,1044.0 962.9,1030.2 962.9,1057.8" fill="#ff00ff" stroke="#ff00ff" stroke-width="2" stroke-linejoin="round"/>
<polygon points="1053.4,1044.0 1077.6,1030.2 1077.6,1057.8" fill="#ff00ff" stroke="#ff00ff" stroke-width="2" stroke-linejoin="round"/>
<polygon points="1185.3,1044.0 1209.5,1030.2 1209.5,1057.8" fill="#ff00ff" stroke="#ff00ff" stroke-width="2" stroke-linejoin="round"/>
<polygon points="1336.6,1044.0 1360.8,1030.2 1360.8,1057.8" fill="#ff00ff" stroke="#ff00ff" stroke-width="2" stroke-linejoin="round"/>
</g>
<g shape-rendering="crispEdges">
<line x1="1280" y1="174" x2="1404.5" y2="174" stroke="#000000" stroke-width="6" stroke-linecap="round"/>
<rect x="1330.6" y="162.8" width="22.6" height="22.6" fill="#000000"/>
<line x1="1280" y1="242" x2="1404.5" y2="242" stroke="#ff0000" stroke-width="6" stroke-linecap="round"/>
<circle cx="1342.0" cy="242.0" r="12.7" fill="#ff0000"/>
<line x1="1280" y1="310" x2="1404.5" y2="310" stroke="#0000ff" stroke-width="6" stroke-linecap="round"/>
<polygon points="1342.0,294.6 1328.2,318.8 1355.8,318.8" fill="#0000ff" stroke="#0000ff" stroke-width="2" stroke-linejoin="round"/>
<line x1="1280" y1="378.5" x2="1404.5" y2="378.5" stroke="#008080" stroke-width="6" stroke-linecap="round"/>
<polygon points="1342.0,394.7 1328.2,370.5 1355.8,370.5" fill="#008080" stroke="#008080" stroke-width="2" stroke-linejoin="round"/>
<line x1="1280" y1="447" x2="1404.5" y2="447" stroke="#ff00ff" stroke-width="6" stroke-linecap="round"/>
<polygon points="1326.6,447.0 1350.8,433.2 1350.8,460.8" fill="#ff00ff" stroke="#ff00ff" stroke-width="2" stroke-linejoin="round"/>
</g>
<text transform="translate(1419.5,193.2) scale(1,1.03)" font-size="56.3">Al</text>
<text transform="translate(1419.5,261.2) scale(1,1.03)" font-size="56.3">Co</text>
<text transform="translate(1419.5,329.2) scale(1,1.03)" font-size="56.3">Cr</text>
<text transform="translate(1419.5,397.7) scale(1,1.03)" font-size="56.3">Cu</text>
<text transform="translate(1419.5,466.2) scale(1,1.03)" font-size="56.3">Fe</text>
<text transform="translate(180.5,1112) scale(1,1.03)" font-size="61" text-anchor="middle">0</text>
<text transform="translate(292.5,1112) scale(1,1.03)" font-size="61" text-anchor="middle">10</text>
<text transform="translate(404.5,1112) scale(1,1.03)" font-size="61" text-anchor="middle">20</text>
<text transform="translate(516.5,1112) scale(1,1.03)" font-size="61" text-anchor="middle">30</text>
<text transform="translate(628.5,1112) scale(1,1.03)" font-size="61" text-anchor="middle">40</text>
<text transform="translate(740.5,1112) scale(1,1.03)" font-size="61" text-anchor="middle">50</text>
<text transform="translate(852.5,1112) scale(1,1.03)" font-size="61" text-anchor="middle">60</text>
<text transform="translate(964.5,1112) scale(1,1.03)" font-size="61" text-anchor="middle">70</text>
<text transform="translate(1076.5,1112) scale(1,1.03)" font-size="61" text-anchor="middle">80</text>
<text transform="translate(1188.5,1112) scale(1,1.03)" font-size="61" text-anchor="middle">90</text>
<text transform="translate(1300.5,1112) scale(1,1.03)" font-size="61" text-anchor="middle">100</text>
<text transform="translate(1412.5,1112) scale(1,1.03)" font-size="61" text-anchor="middle">110</text>
<text transform="translate(1524.5,1112) scale(1,1.03)" font-size="61" text-anchor="middle">120</text>
<text x="158" y="1060.0" font-size="56.5" letter-spacing="-2" text-anchor="end">0</text>
<text x="158" y="917.6" font-size="56.5" letter-spacing="-2" text-anchor="end">2</text>
<text x="158" y="775.1" font-size="56.5" letter-spacing="-2" text-anchor="end">4</text>
<text x="158" y="632.7" font-size="56.5" letter-spacing="-2" text-anchor="end">6</text>
<text x="158" y="490.3" font-size="56.5" letter-spacing="-2" text-anchor="end">8</text>
<text x="158" y="347.9" font-size="56.5" letter-spacing="-2" text-anchor="end">10</text>
<text x="158" y="205.4" font-size="56.5" letter-spacing="-2" text-anchor="end">12</text>
<text x="158" y="63.0" font-size="56.5" letter-spacing="-2" text-anchor="end">14</text>
<text transform="translate(808.2,1188) scale(1,1.03)" font-size="60.2" text-anchor="middle">Particle Size (μm)</text>
<text transform="translate(80.7,545.8) rotate(-90) scale(1,1.025)" font-size="60.9" text-anchor="middle">Volume Fraction (%)</text>
</svg></body></html>
